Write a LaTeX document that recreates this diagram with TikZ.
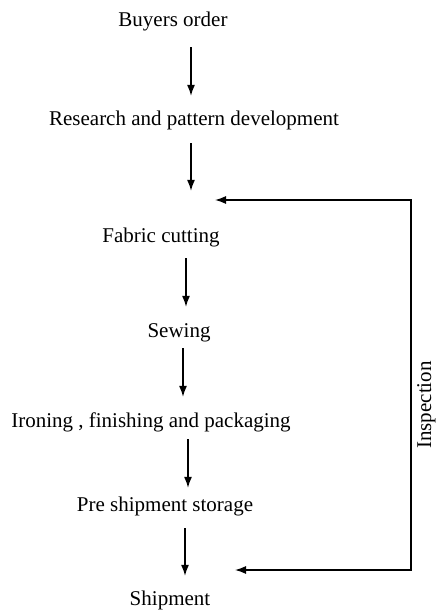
\documentclass[tikz,border=0pt]{standalone}
\usepackage{fontspec}
\setmainfont{Liberation Serif}
\usetikzlibrary{arrows.meta}

\tikzset{
  stage/.style={inner sep=0pt, text height=14.7pt, text depth=4.6pt,
    font=\fontsize{21}{25}\selectfont},
  flow/.style={line width=1.3pt, -{Latex[length=11pt,width=8pt]}},
  check/.style={line width=1.3pt, {Latex[length=11pt,width=8pt]}-{Latex[length=11pt,width=8pt]}},
}

\begin{document}
\begin{tikzpicture}[x=1pt, y=-1pt]
			\useasboundingbox (0, 0) rectangle (439, 610);

			% process stages
			\node[stage] (buyers) at (173, 21) {Buyers order};
			\node[stage] (research) at (194, 120) {Research and pattern development};
			\node[stage] (cutting) at (161, 237) {Fabric cutting};
			\node[stage] (sewing) at (179, 332) {Sewing};
			\node[stage] (ironing) at (151, 422) {Ironing , finishing and packaging};
			\node[stage] (storage) at (165, 506) {Pre shipment storage};
			\node[stage] (shipment) at (170, 600) {Shipment};

			\draw[flow] ([xshift=18pt, yshift=-16.3pt]buyers.south) -- ([xshift=-3pt, yshift=14.3pt]research.north);
			\draw[flow] ([xshift=-3pt, yshift=-13.3pt]research.south) -- ([xshift=30pt, yshift=36.3pt]cutting.north);
			\draw[flow] ([xshift=25pt, yshift=-11.3pt]cutting.south) -- ([xshift=7pt, yshift=15.3pt]sewing.north);
			\draw[flow] ([xshift=4pt, yshift=-6.3pt]sewing.south) -- ([xshift=32pt, yshift=15.3pt]ironing.north);
			\draw[flow] ([xshift=37pt, yshift=-7.3pt]ironing.south) -- ([xshift=23pt, yshift=8.3pt]storage.north);
			\draw[flow] ([xshift=20pt, yshift=-12.3pt]storage.south) -- ([xshift=15pt, yshift=14.3pt]shipment.north);

			% inspection loop on the right
			\coordinate (loopin) at (215, 200);
			\coordinate (loopside) at (411, 570);
			\coordinate (loopout) at (235, 570);
			\draw[check] (loopin) -| (loopside) -- (loopout);
			\node[stage, rotate=90] (inspection) at (426, 405) {Inspection};
		\end{tikzpicture}
\end{document}
